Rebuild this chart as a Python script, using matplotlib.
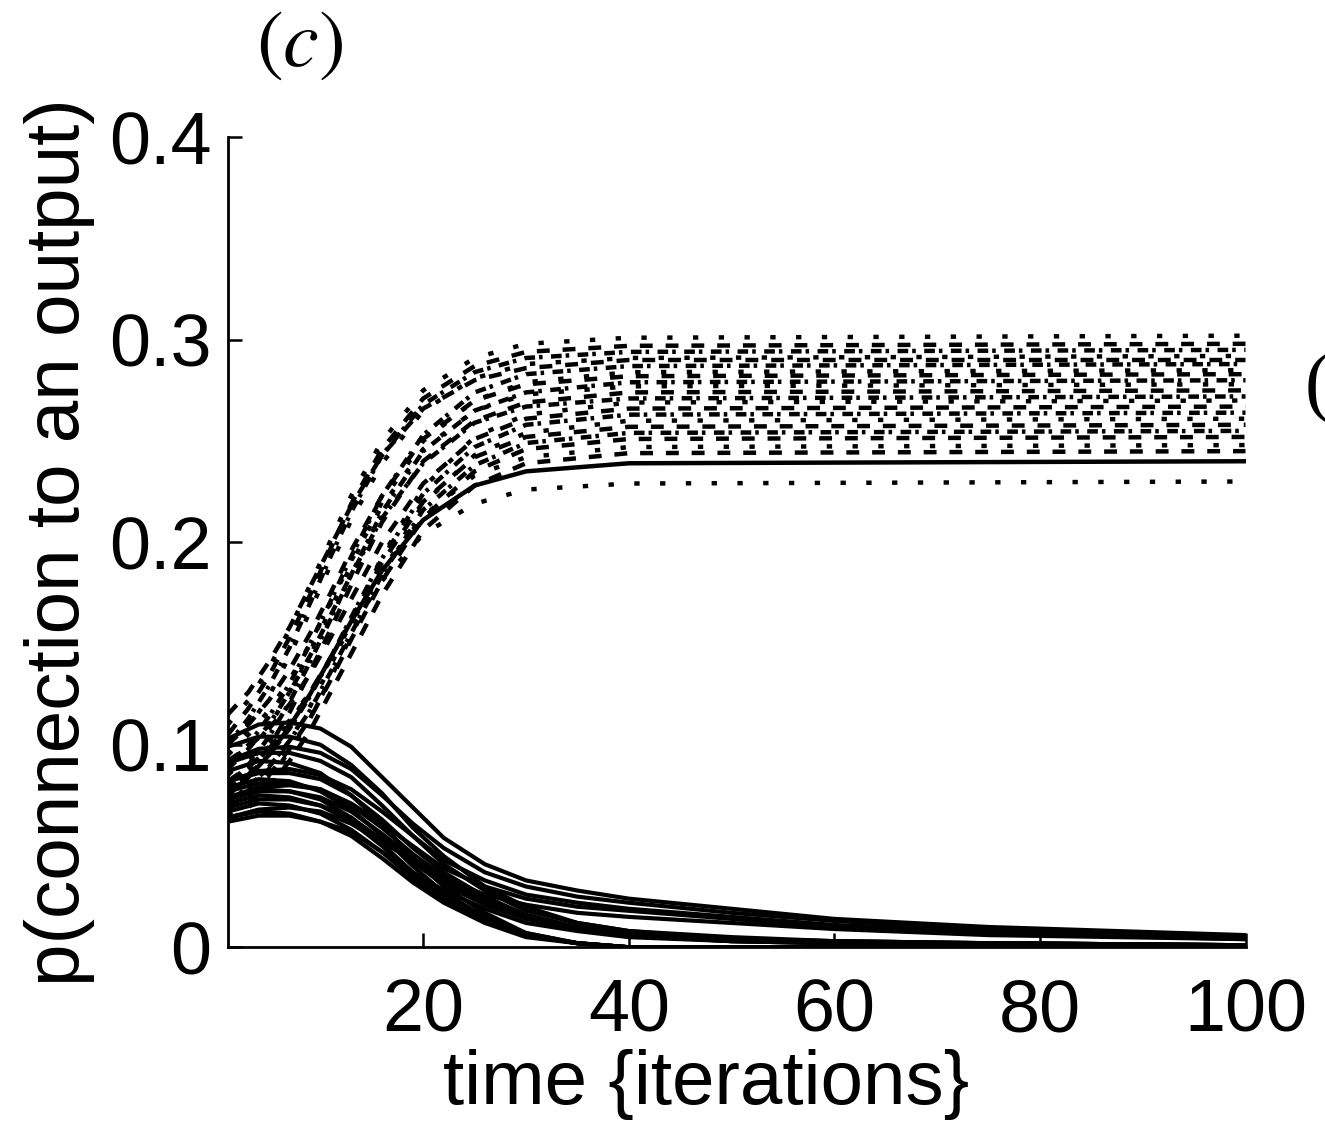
import matplotlib
matplotlib.use("Agg")
import matplotlib.pyplot as plt

plt.rcParams['font.family'] = ['Liberation Sans', 'DejaVu Sans']
plt.rcParams['mathtext.fontset'] = 'stix'

t_up = [1, 3, 5, 7, 9, 11, 13, 16, 20, 25, 30, 40, 100]
t_low = [1, 4, 7, 10, 13, 16, 19, 22, 26, 30, 35, 40, 50, 60, 75, 100]

# rising curves (upper bundle)
p_up = [
    [.110, .122, .138, .157, .179, .201, .223, .250, .275, .291, .298, .301, .302],
    [.105, .118, .134, .153, .174, .197, .219, .246, .271, .287, .294, .297, .298],
    [.100, .113, .129, .148, .170, .193, .215, .243, .268, .284, .291, .294, .295],
    [.095, .108, .124, .144, .166, .189, .211, .239, .265, .281, .288, .291, .292],
    [.115, .126, .141, .158, .178, .198, .218, .243, .266, .280, .286, .290, .290],
    [.090, .100, .114, .130, .150, .171, .193, .223, .253, .274, .283, .287, .288],
    [.085, .095, .109, .126, .146, .167, .189, .220, .250, .270, .279, .284, .285],
    [.100, .110, .122, .137, .155, .175, .196, .223, .251, .270, .278, .282, .283],
    [.080, .090, .104, .121, .141, .162, .184, .215, .245, .265, .274, .279, .280],
    [.095, .105, .117, .132, .150, .170, .191, .218, .246, .265, .273, .277, .278],
    [.075, .085, .099, .116, .136, .157, .179, .210, .240, .260, .269, .274, .275],
    [.088, .098, .110, .126, .144, .164, .184, .212, .239, .259, .267, .271, .272],
    [.070, .078, .088, .102, .119, .139, .161, .193, .227, .252, .263, .269, .270],
    [.092, .099, .108, .120, .135, .153, .172, .200, .229, .251, .261, .266, .267],
    [.078, .085, .095, .108, .124, .143, .163, .192, .224, .247, .258, .263, .264],
    [.065, .073, .083, .097, .113, .133, .154, .185, .219, .243, .254, .260, .261],
    [.082, .089, .098, .110, .126, .143, .162, .190, .220, .242, .252, .257, .258],
    [.072, .079, .089, .102, .117, .136, .155, .184, .216, .238, .249, .254, .255],
    [.068, .075, .085, .098, .113, .132, .152, .181, .212, .235, .246, .251, .252],
    [.086, .092, .101, .112, .126, .142, .160, .186, .213, .233, .242, .247, .248],
    [.062, .069, .079, .092, .107, .126, .145, .174, .206, .228, .239, .244, .245],
    [.075, .084, .095, .109, .125, .143, .161, .186, .211, .228, .235, .239, .240],
    [.080, .088, .098, .111, .126, .142, .158, .181, .204, .219, .226, .229, .230],
]
kind_up = ['dot', 'dash', 'dashdot', 'dot', 'dash', 'dashdot', 'dot', 'dash',
           'dashdot', 'dot', 'dash', 'dashdot', 'dot', 'dash', 'dashdot', 'dot',
           'dash', 'dashdot', 'dash', 'dot', 'dash', 'solid', 'dot']

# decaying curves (lower bundle, solid)
p_low = [
    [.103, .110, .111, .108, .099, .084, .069, .054, .041, .033, .028, .024, .019, .014, .010, .006],
    [.099, .104, .104, .100, .090, .076, .059, .045, .030, .020, .012, .008, .005, .003, .002, .001],
    [.092, .098, .099, .096, .088, .075, .061, .049, .037, .030, .025, .022, .017, .013, .009, .005],
    [.091, .096, .096, .092, .084, .070, .055, .041, .028, .018, .012, .008, .004, .003, .002, .001],
    [.087, .092, .091, .086, .075, .061, .044, .030, .017, .007, .002, .000, .000, .000, .000, .000],
    [.082, .087, .088, .085, .078, .067, .055, .043, .033, .026, .022, .019, .015, .011, .008, .005],
    [.082, .086, .086, .083, .075, .063, .049, .037, .025, .016, .010, .007, .004, .003, .002, .001],
    [.079, .083, .082, .077, .068, .055, .040, .027, .015, .007, .002, .000, .000, .000, .000, .000],
    [.077, .081, .081, .078, .070, .059, .046, .035, .023, .015, .010, .006, .004, .002, .002, .001],
    [.074, .079, .080, .078, .071, .061, .050, .039, .030, .024, .020, .018, .014, .010, .007, .004],
    [.074, .078, .077, .073, .064, .051, .037, .026, .014, .006, .002, .000, .000, .000, .000, .000],
    [.073, .077, .077, .074, .067, .056, .044, .033, .022, .015, .009, .006, .003, .002, .002, .001],
    [.071, .075, .074, .070, .062, .050, .036, .025, .014, .006, .002, .000, .000, .000, .000, .000],
    [.069, .073, .073, .070, .064, .053, .042, .031, .021, .014, .009, .006, .003, .002, .001, .001],
    [.067, .071, .070, .066, .058, .047, .034, .023, .013, .006, .002, .000, .000, .000, .000, .000],
    [.064, .068, .069, .067, .061, .052, .043, .034, .026, .021, .017, .015, .012, .009, .006, .004],
    [.064, .067, .066, .062, .055, .044, .032, .022, .012, .005, .002, .000, .000, .000, .000, .000],
    [.062, .065, .065, .062, .057, .047, .037, .028, .019, .012, .008, .005, .003, .002, .001, .001],
]

# dash patterns in units of line width
dash_map = {'dot': (0, (1.2, 4.6)),
            'dash': (0, (2.9, 2.9)),
            'dashdot': (0, (2.4, 0.9, 0.8, 1.9)),
            'solid': '-'}

fig = plt.figure(figsize=(13.25, 11.25), dpi=100)
ax = fig.add_axes([0.172, 0.158, 0.768, 0.72])

for row in p_low:
    ax.plot(t_low, row, color='black', lw=3.0, ls='-', solid_joinstyle='round')

for row, k in zip(p_up, kind_up):
    ax.plot(t_up, row, color='black', lw=3.2, ls=dash_map[k], dash_capstyle='butt')

ax.set_xlim(1, 100)
ax.set_ylim(0, 0.4)
ax.set_xticks([20, 40, 60, 80, 100])
ax.set_yticks([0, 0.1, 0.2, 0.3, 0.4])
ax.set_yticklabels(['0', '0.1', '0.2', '0.3', '0.4'])
ax.spines['top'].set_visible(False)
ax.spines['right'].set_visible(False)
ax.spines['left'].set_linewidth(2)
ax.spines['bottom'].set_linewidth(2)
ax.tick_params(direction='in', length=10, width=1.8, labelsize=53)
ax.tick_params(axis='y', pad=12)
ax.tick_params(axis='x', pad=22)

ax.set_xlabel('time {iterations}', fontsize=55, labelpad=0)
ax.xaxis.set_label_coords(0.47, -0.125)
ax.set_ylabel('p(connection to an output)', fontsize=55, labelpad=10)

fig.text(0.226, 0.96, r'$(c)$', fontsize=58, ha='center', va='center')
fig.text(0.985, 0.655, '(d)', fontsize=56, ha='left', va='center', family='Liberation Serif')

fig.savefig('out.png', dpi=100, facecolor='white')
